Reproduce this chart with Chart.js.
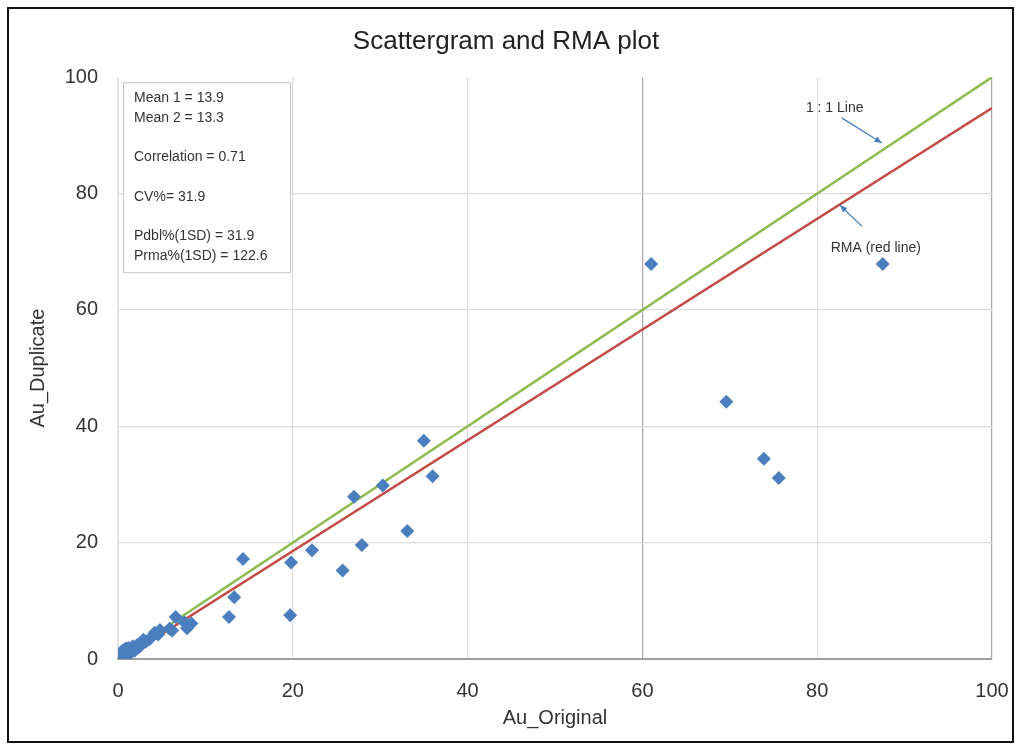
<!DOCTYPE html>
<html>
<head>
<meta charset="utf-8">
<title>Scattergram and RMA plot</title>
<script src="https://cdn.jsdelivr.net/npm/chart.js@4.4.1/dist/chart.umd.min.js"></script>
<style>
  html, body { margin: 0; padding: 0; background: #fff; }
</style>
</head>
<body>
<canvas id="scatterChart" width="1021" height="749"></canvas>
<script>
// Au duplicate pairs
const auOriginal = [
  61.0, 87.5, 69.6, 73.9, 75.6, 35.0, 36.0, 30.3, 27.0, 33.1, 22.2, 27.9, 25.7,
  14.3, 19.8, 13.3, 12.7, 19.7,
  6.6, 7.9, 8.4, 7.6, 6.2, 5.9, 4.8, 4.2, 4.6, 3.6, 3.2, 2.9, 2.6, 2.2, 2.0, 1.7,
  1.5, 1.2, 1.1, 0.9, 0.8, 0.6, 0.5, 0.4, 0.3, 0.2, 0.1, 0.0, 0.0, 1.4, 1.9, 2.4,
  0.7, 1.0, 0.3
];
const auDuplicate = [
  67.9, 67.9, 44.2, 34.4, 31.1, 37.5, 31.4, 29.8, 27.9, 22.0, 18.7, 19.6, 15.2,
  17.2, 16.6, 10.6, 7.2, 7.5,
  7.2, 5.3, 6.1, 6.3, 4.9, 5.2, 5.0, 4.5, 4.2, 3.4, 3.0, 3.3, 2.6, 2.4, 1.9, 2.2,
  1.6, 1.9, 1.3, 1.8, 1.1, 1.5, 0.7, 0.9, 0.4, 0.2, 0.1, 0.3, 0.0, 1.0, 1.4, 2.0,
  0.4, 0.6, 1.1
];

// reference lines
const oneToOneX = [0, 100];
const oneToOneY = [0, 100];
const rmaX = [0.5, 100];
const rmaY = [0, 94.7];

const xTicks = [0, 20, 40, 60, 80, 100];
const yTicks = [0, 20, 40, 60, 80, 100];

const statsLines = [
  "Mean 1 = 13.9", "Mean 2 = 13.3", "",
  "Correlation = 0.71", "",
  "CV%= 31.9", "",
  "Pdbl%(1SD) = 31.9", "Prma%(1SD) = 122.6"
];

// callout labels and arrows, in data units
const calloutText = ["1 : 1 Line", "RMA (red line)"];
const calloutTextX = [82.0, 86.7];
const calloutTextY = [94.7, 70.6];
const arrowFromX = [82.8, 85.1];
const arrowFromY = [93.0, 74.4];
const arrowToX = [87.4, 82.6];
const arrowToY = [88.7, 78.0];

const FONT = "'Liberation Sans', Arial, sans-serif";
const BLUE = "#4a7ebf";

function toPoints(xs, ys) {
  return xs.map((x, i) => ({ x: x, y: ys[i] }));
}

// outer frame of the figure
const framePlugin = {
  id: "frame",
  afterDraw(chart) {
    const ctx = chart.ctx;
    ctx.save();
    ctx.strokeStyle = "#111";
    ctx.lineWidth = 2;
    ctx.strokeRect(8, 8, 1005, 734);
    ctx.restore();
  }
};

// statistics box in the upper left corner
const statsPlugin = {
  id: "statsBox",
  afterDatasetsDraw(chart) {
    const ctx = chart.ctx;
    const a = chart.chartArea;
    const bx = a.left + 5, by = a.top + 5;
    ctx.save();
    ctx.fillStyle = "#fff";
    ctx.fillRect(bx, by, 167, 190);
    ctx.strokeStyle = "#c4c4c4";
    ctx.lineWidth = 1;
    ctx.strokeRect(bx + 0.5, by + 0.5, 167, 190);
    ctx.fillStyle = "#333";
    ctx.font = "14px " + FONT;
    ctx.textBaseline = "middle";
    statsLines.forEach((t, i) => {
      ctx.fillText(t, bx + 11, by + 16 + i * 19.7);
    });
    ctx.restore();
  }
};

// callouts with arrows
const calloutPlugin = {
  id: "callouts",
  afterDatasetsDraw(chart) {
    const ctx = chart.ctx;
    const xs = chart.scales.x, ys = chart.scales.y;
    ctx.save();
    ctx.font = "14px " + FONT;
    ctx.textAlign = "center";
    ctx.textBaseline = "middle";
    calloutText.forEach((t, i) => {
      ctx.fillStyle = "#333";
      ctx.fillText(t, xs.getPixelForValue(calloutTextX[i]), ys.getPixelForValue(calloutTextY[i]));
      const x1 = xs.getPixelForValue(arrowFromX[i]), y1 = ys.getPixelForValue(arrowFromY[i]);
      const x2 = xs.getPixelForValue(arrowToX[i]), y2 = ys.getPixelForValue(arrowToY[i]);
      ctx.strokeStyle = BLUE;
      ctx.fillStyle = BLUE;
      ctx.lineWidth = 1.3;
      ctx.beginPath();
      ctx.moveTo(x1, y1);
      ctx.lineTo(x2, y2);
      ctx.stroke();
      const ang = Math.atan2(y2 - y1, x2 - x1);
      ctx.beginPath();
      ctx.moveTo(x2, y2);
      ctx.lineTo(x2 - 8 * Math.cos(ang - 0.4), y2 - 8 * Math.sin(ang - 0.4));
      ctx.lineTo(x2 - 8 * Math.cos(ang + 0.4), y2 - 8 * Math.sin(ang + 0.4));
      ctx.closePath();
      ctx.fill();
    });
    ctx.restore();
  }
};

const scatterChart = new Chart(document.getElementById("scatterChart"), {
  type: "scatter",
  data: {
    datasets: [
      {
        label: "Au duplicates",
        data: toPoints(auOriginal, auDuplicate),
        pointStyle: "rectRot",
        pointRadius: 7,
        backgroundColor: BLUE,
        borderColor: BLUE,
        borderWidth: 0,
        order: 0
      },
      {
        type: "line",
        label: "1 : 1 Line",
        data: toPoints(oneToOneX, oneToOneY),
        borderColor: "#8dbb4f",
        borderWidth: 2.5,
        pointRadius: 0,
        fill: false,
        order: 1
      },
      {
        type: "line",
        label: "RMA",
        data: toPoints(rmaX, rmaY),
        borderColor: "#c44a45",
        borderWidth: 2.5,
        pointRadius: 0,
        fill: false,
        order: 2
      }
    ]
  },
  options: {
    responsive: false,
    animation: false,
    layout: { padding: { left: 20, right: 29, top: 0, bottom: 0 } },
    plugins: {
      legend: { display: false },
      tooltip: { enabled: false },
      title: {
        display: true,
        text: "Scattergram and RMA plot",
        color: "#222",
        font: { family: FONT, size: 26, weight: "normal" },
        padding: { top: 26, bottom: 20 }
      }
    },
    scales: {
      x: {
        type: "linear",
        min: 0,
        max: 100,
        afterBuildTicks: (s) => { s.ticks = xTicks.map((v) => ({ value: v })); },
        afterFit: (s) => { s.height = 90; s.paddingLeft = 0; s.paddingRight = 0; },
        grid: {
          drawTicks: false,
          lineWidth: 1.2,
          color: (c) => {
            const v = c.tick ? c.tick.value : null;
            if (v === 60 || v === 100) return "#a6a6a6";
            if (v === 0) return "#e2e2e2";
            return "#dcdcdc";
          }
        },
        border: { display: true, color: "#a0a0a0", width: 2 },
        ticks: {
          padding: 20,
          color: "#333",
          font: { family: FONT, size: 20 }
        },
        title: {
          display: true,
          text: "Au_Original",
          color: "#333",
          font: { family: FONT, size: 20 },
          padding: { top: 0, bottom: 19 }
        }
      },
      y: {
        type: "linear",
        min: 0,
        max: 100,
        afterBuildTicks: (s) => { s.ticks = yTicks.map((v) => ({ value: v })); },
        afterFit: (s) => { s.width = 98; },
        grid: {
          drawTicks: false,
          lineWidth: 1.2,
          color: (c) => {
            const v = c.tick ? c.tick.value : null;
            if (v === 100) return "rgba(0,0,0,0)";
            if (v === 0) return "#a0a0a0";
            return "#dcdcdc";
          }
        },
        border: { display: true, color: "#e2e2e2", width: 1 },
        ticks: {
          padding: 20,
          color: "#333",
          font: { family: FONT, size: 20 }
        },
        title: {
          display: true,
          text: "Au_Duplicate",
          color: "#333",
          font: { family: FONT, size: 20 },
          padding: { top: 6, bottom: 0 }
        }
      }
    }
  },
  plugins: [statsPlugin, calloutPlugin, framePlugin]
});
</script>
</body>
</html>
